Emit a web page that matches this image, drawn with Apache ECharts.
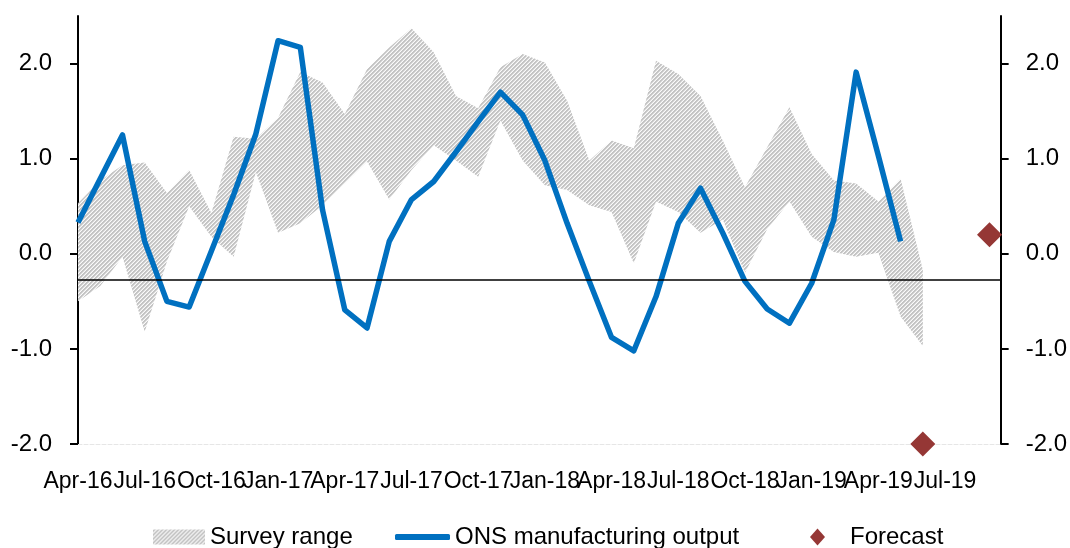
<!DOCTYPE html>
<html>
<head>
<meta charset="utf-8">
<script src="https://cdn.jsdelivr.net/npm/echarts@6/dist/echarts.min.js"></script>
<style>
html,body{margin:0;padding:0;background:#fff;}
#chart{width:1070px;height:548px;}
</style>
</head>
<body>
<div id="chart"></div>
<script>
// Monthly categories (index 0 = Apr-16)
var months = ['Apr-16','May-16','Jun-16','Jul-16','Aug-16','Sep-16','Oct-16','Nov-16','Dec-16',
  'Jan-17','Feb-17','Mar-17','Apr-17','May-17','Jun-17','Jul-17','Aug-17','Sep-17','Oct-17','Nov-17','Dec-17',
  'Jan-18','Feb-18','Mar-18','Apr-18','May-18','Jun-18','Jul-18','Aug-18','Sep-18','Oct-18','Nov-18','Dec-18',
  'Jan-19','Feb-19','Mar-19','Apr-19','May-19','Jun-19','Jul-19','Aug-19','Sep-19'];
// x tick labels shown every 3 months
var xTickLabels = ['Apr-16','Jul-16','Oct-16','Jan-17','Apr-17','Jul-17','Oct-17','Jan-18','Apr-18','Jul-18','Oct-18','Jan-19','Apr-19','Jul-19'];
var yTickValues = [-2, -1, 0, 1, 2];

// Survey range: lower and upper bounds (Apr-16 .. Jun-19)
var surveyLow = [-0.50,-0.34,-0.03,-0.82,-0.08,0.50,0.18,-0.03,0.86,0.22,0.32,0.51,0.74,0.97,0.57,0.88,1.14,0.98,0.81,1.40,0.98,
  0.72,0.67,0.51,0.44,-0.10,0.55,0.44,0.22,0.36,-0.20,0.26,0.55,0.18,0.02,-0.03,0.01,-0.66,-0.97];
var surveyHigh = [0.53,0.77,0.93,0.96,0.64,0.88,0.43,1.23,1.21,1.43,1.91,1.80,1.47,1.94,2.17,2.37,2.12,1.66,1.53,1.96,2.10,
  2.01,1.61,0.98,1.19,1.11,2.03,1.89,1.66,1.19,0.70,1.12,1.54,1.05,0.77,0.74,0.55,0.79,-0.17];
// ONS manufacturing output (Apr-16 .. May-19)
var onsOutput = [0.33,0.79,1.25,0.13,-0.50,-0.56,0.03,0.62,1.26,2.24,2.17,0.46,-0.59,-0.78,0.13,0.57,0.76,1.07,1.39,1.70,1.46,
  0.98,0.32,-0.29,-0.88,-1.02,-0.45,0.32,0.69,0.22,-0.29,-0.58,-0.73,-0.31,0.36,1.91,1.03,0.13];
// Forecast points
var forecastMonths = ['Jun-19','Sep-19'];
var forecastValues = [-2.0, 0.2];
var refLineValue = -0.27;

function idx(m){ return months.indexOf(m); }

// hatch pattern: 4x4 pixel tile with light diagonal stripes ("/")
var tile = document.createElement('canvas');
tile.width = 4; tile.height = 4;
var c = tile.getContext('2d');
var img = c.createImageData(4, 4);
for (var py = 0; py < 4; py++) {
  for (var px = 0; px < 4; px++) {
    var k = (py * 4 + px) * 4;
    var d = (px + py) % 4;
    var g = d === 3 ? 250 : (d === 2 ? 222 : 196);
    img.data[k] = g; img.data[k+1] = g; img.data[k+2] = g; img.data[k+3] = 255;
  }
}
c.putImageData(img, 0, 0);
var hatch = {image: tile, repeat: 'repeat'};

var bandData = surveyLow.map(function(v,i){ return [i, v, surveyHigh[i]]; });
var onsData = onsOutput.map(function(v,i){ return [i, v]; });
var fcData = forecastMonths.map(function(m,i){ return [idx(m), forecastValues[i]]; });

var FONT = 'Liberation Sans';
var chart = echarts.init(document.getElementById('chart'), null, {renderer:'canvas'});

var yAxisCommon = {
  type: 'value', min: -2, max: 2.5, interval: 1,
  axisLine: {show: true, lineStyle: {color: '#000', width: 2}},
  axisTick: {show: true, length: 8, lineStyle: {color: '#000', width: 2}, customValues: yTickValues},
  axisLabel: {color: '#000', fontFamily: FONT, fontSize: 24, margin: 26,
    customValues: yTickValues, formatter: function(v){ return v.toFixed(1); }},
  splitLine: {show: false}
};

function renderBand(params, api){
  if (params.dataIndex !== 0) return null;
  var pts = [];
  for (var i = 0; i < bandData.length; i++) pts.push(api.coord([bandData[i][0], bandData[i][2]]));
  for (var j = bandData.length - 1; j >= 0; j--) pts.push(api.coord([bandData[j][0], bandData[j][1]]));
  return {type: 'polygon', shape: {points: pts}, style: {fill: hatch, stroke: null}};
}

chart.setOption({
  animation: false,
  grid: {left: 78, right: 68, top: 16, bottom: 104},
  legend: [
    {left: 153, top: 525, padding: 0, itemWidth: 52, itemHeight: 15, itemGap: 0,
     textStyle: {fontFamily: FONT, fontSize: 24, color: '#000'},
     data: [{name: 'Survey range', icon: 'rect', itemStyle: {color: hatch}}]},
    {left: 395, top: 525, padding: 0, itemWidth: 55, itemHeight: 6, itemGap: 0,
     textStyle: {fontFamily: FONT, fontSize: 24, color: '#000'},
     data: [{name: 'ONS manufacturing output', icon: 'roundRect', itemStyle: {color: '#0070C0'}}]},
    {left: 810, top: 525, padding: 0, itemWidth: 15, itemHeight: 17, itemGap: 0,
     textStyle: {fontFamily: FONT, fontSize: 24, color: '#000', padding: [0,0,0,20]},
     data: [{name: 'Forecast', icon: 'diamond'}]}
  ],
  xAxis: {
    type: 'value', min: 0, max: 41.5, interval: 3,
    axisLine: {show: true, onZero: false, lineStyle: {color: '#e6e6e6', width: 1, type: 'dashed'}},
    axisTick: {show: false},
    splitLine: {show: false},
    axisLabel: {color: '#000', fontFamily: FONT, fontSize: 23, margin: 26, showMinLabel: true, showMaxLabel: false,
      hideOverlap: false,
      formatter: function(v){
        var m = months[v];
        return (m && xTickLabels.indexOf(m) >= 0) ? m : '';
      }}
  },
  yAxis: [
    Object.assign({}, yAxisCommon, {position: 'left'}),
    Object.assign({}, yAxisCommon, {position: 'right', axisLabel: Object.assign({}, yAxisCommon.axisLabel, {margin: 25})})
  ],
  series: [
    {name: 'Survey range', type: 'custom', data: bandData, renderItem: renderBand,
     encode: {x: 0, y: [1, 2]}, itemStyle: {color: '#c4c4c4'}, silent: true, z: 1},
    {name: 'ONS manufacturing output', type: 'line', data: onsData, symbol: 'none',
     lineStyle: {color: '#0070C0', width: 5.5, join: 'round'}, itemStyle: {color: '#0070C0'}, z: 3,
     markLine: {symbol: 'none', silent: true, label: {show: false},
       lineStyle: {color: '#000', width: 1.5, type: 'solid'},
       data: [{yAxis: refLineValue}]}},
    {name: 'Forecast', type: 'scatter', data: fcData, symbol: 'diamond', symbolSize: 25,
     itemStyle: {color: '#953735', opacity: 1}, z: 4}
  ]
});
</script>
</body>
</html>
